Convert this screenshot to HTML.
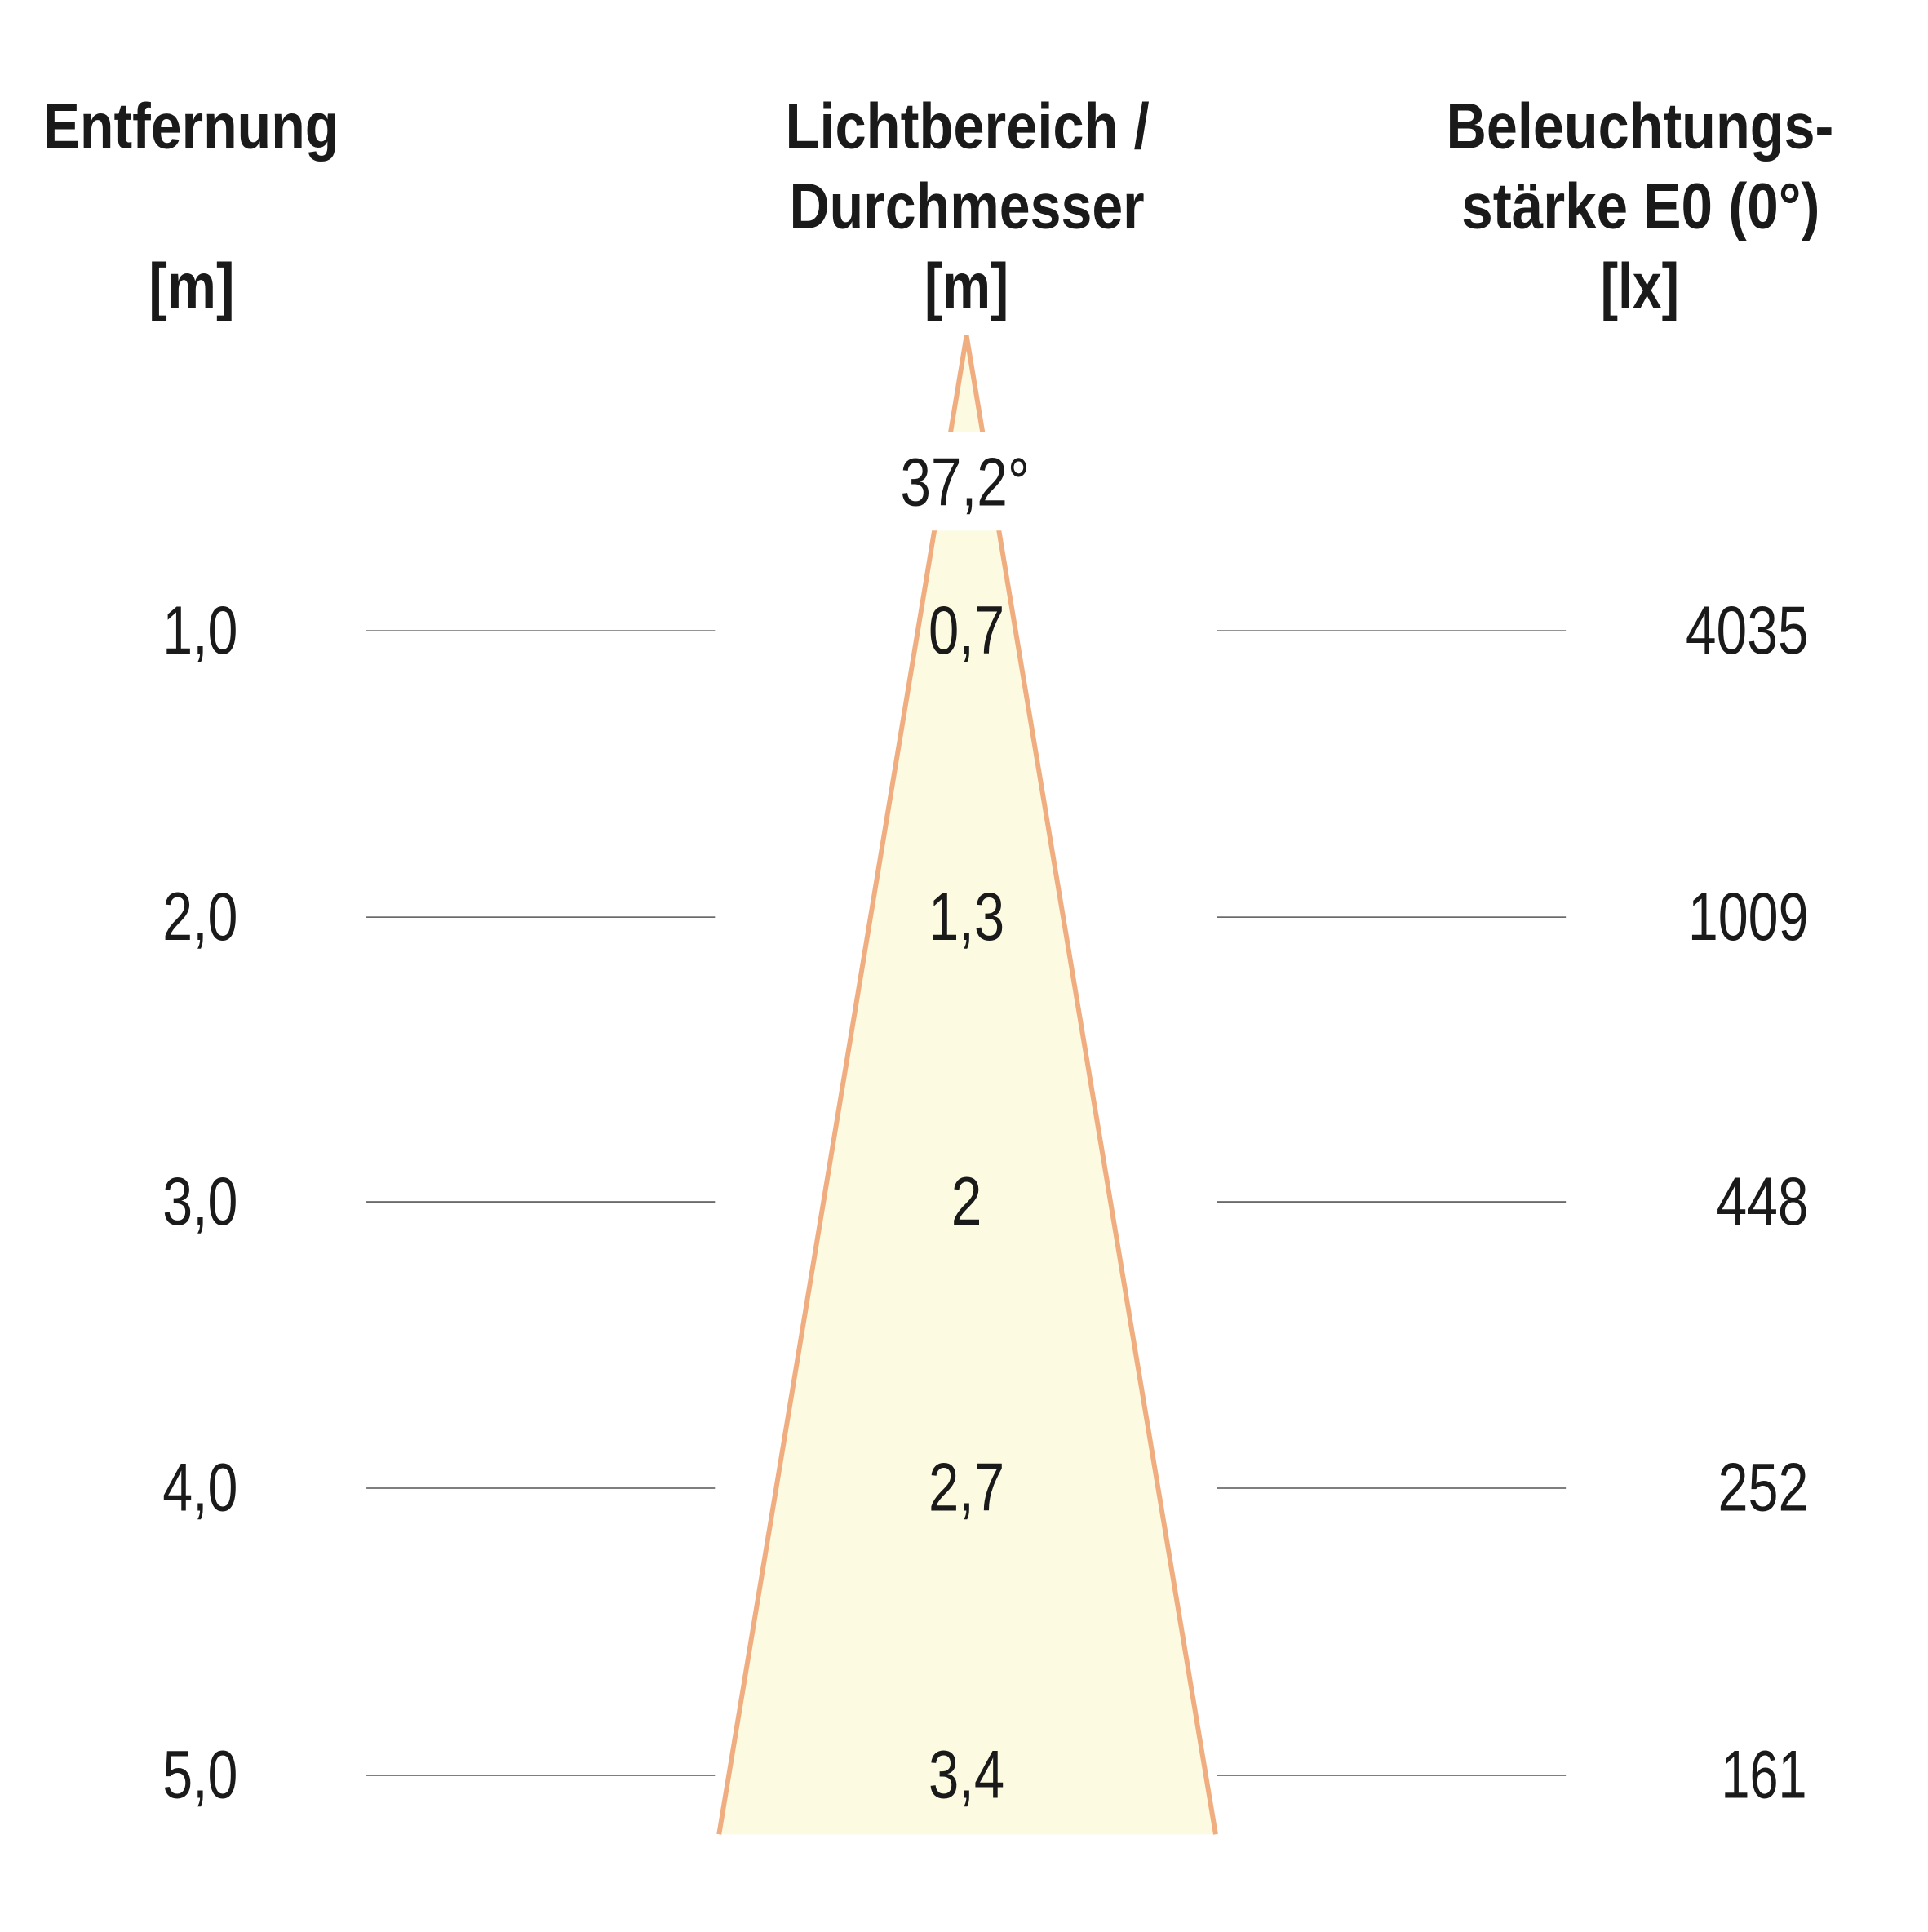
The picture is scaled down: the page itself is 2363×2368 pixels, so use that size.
<!DOCTYPE html>
<html><head><meta charset="utf-8"><style>html,body{margin:0;padding:0;background:#fff}</style></head>
<body>
<svg width="2363" height="2363" viewBox="0 0 2363 2363" xmlns="http://www.w3.org/2000/svg" font-family="'Liberation Sans Narrow','Liberation Sans',sans-serif" fill="#1a1a1a">
<rect width="2363" height="2363" fill="#fff"/>
<g transform="scale(0.9913)">
<polygon points="1195,415 889,2268 1503,2268" fill="#fdfae2"/>
<polyline points="889,2268 1195,415 1503,2268" fill="none" stroke="#f0ad80" stroke-width="6" stroke-linejoin="miter"/>
<rect x="1110" y="534" width="170" height="122" fill="#fff" rx="20"/>
<g font-weight="bold" font-size="80">
<text x="53" y="183" textLength="366" lengthAdjust="spacingAndGlyphs">Entfernung</text>
<text x="184" y="381" textLength="106" lengthAdjust="spacingAndGlyphs">[m]</text>
<text x="971" y="183" textLength="450" lengthAdjust="spacingAndGlyphs">Lichtbereich /</text>
<text x="976" y="282" textLength="439" lengthAdjust="spacingAndGlyphs">Durchmesser</text>
<text x="1143" y="381" textLength="104" lengthAdjust="spacingAndGlyphs">[m]</text>
<text x="1788" y="183" textLength="479" lengthAdjust="spacingAndGlyphs">Beleuchtungs-</text>
<text x="1807" y="282" textLength="443" lengthAdjust="spacingAndGlyphs">stärke E0 (0°)</text>
<text x="1979" y="381" textLength="97" lengthAdjust="spacingAndGlyphs">[lx]</text>
</g>
<g font-size="84">
<text x="1113" y="625" textLength="160" lengthAdjust="spacingAndGlyphs">37,2°</text>
</g>
<g stroke="#555" stroke-width="1.6">
<line x1="453" y1="780" x2="884" y2="780"/><line x1="1505" y1="780" x2="1936" y2="780"/>
<line x1="453" y1="1134" x2="884" y2="1134"/><line x1="1505" y1="1134" x2="1936" y2="1134"/>
<line x1="453" y1="1486" x2="884" y2="1486"/><line x1="1505" y1="1486" x2="1936" y2="1486"/>
<line x1="453" y1="1840" x2="884" y2="1840"/><line x1="1505" y1="1840" x2="1936" y2="1840"/>
<line x1="453" y1="2195" x2="884" y2="2195"/><line x1="1505" y1="2195" x2="1936" y2="2195"/>
</g>
<g font-size="84">
<text x="201" y="808" textLength="93" lengthAdjust="spacingAndGlyphs">1,0</text>
<text x="201" y="1162" textLength="93" lengthAdjust="spacingAndGlyphs">2,0</text>
<text x="201" y="1514" textLength="93" lengthAdjust="spacingAndGlyphs">3,0</text>
<text x="201" y="1868" textLength="93" lengthAdjust="spacingAndGlyphs">4,0</text>
<text x="201" y="2223" textLength="93" lengthAdjust="spacingAndGlyphs">5,0</text>
<text x="1148" y="808" textLength="94" lengthAdjust="spacingAndGlyphs">0,7</text>
<text x="1148" y="1162" textLength="94" lengthAdjust="spacingAndGlyphs">1,3</text>
<text x="1176" y="1514" textLength="38" lengthAdjust="spacingAndGlyphs">2</text>
<text x="1148" y="1868" textLength="94" lengthAdjust="spacingAndGlyphs">2,7</text>
<text x="1148" y="2223" textLength="94" lengthAdjust="spacingAndGlyphs">3,4</text>
<text x="2084" y="808" textLength="152" lengthAdjust="spacingAndGlyphs">4035</text>
<text x="2087" y="1162" textLength="149" lengthAdjust="spacingAndGlyphs">1009</text>
<text x="2122" y="1514" textLength="114" lengthAdjust="spacingAndGlyphs">448</text>
<text x="2124" y="1868" textLength="112" lengthAdjust="spacingAndGlyphs">252</text>
<text x="2128" y="2223" textLength="106" lengthAdjust="spacingAndGlyphs">161</text>
</g>
</g>
</svg>
</body></html>
